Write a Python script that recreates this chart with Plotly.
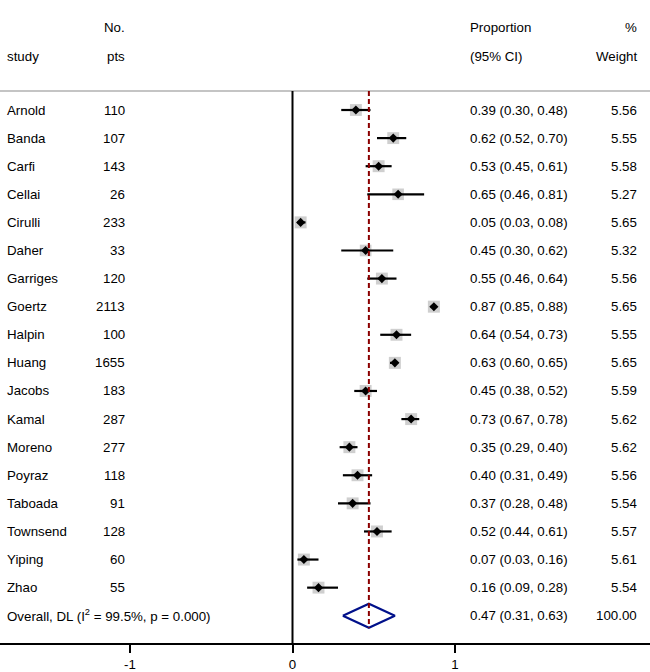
import plotly.graph_objects as go
import math

studies = ["Arnold", "Banda", "Carfi", "Cellai", "Cirulli", "Daher", "Garriges", "Goertz", "Halpin",
           "Huang", "Jacobs", "Kamal", "Moreno", "Poyraz", "Taboada", "Townsend", "Yiping", "Zhao"]
pts = [110, 107, 143, 26, 233, 33, 120, 2113, 100, 1655, 183, 287, 277, 118, 91, 128, 60, 55]
est = [0.39, 0.62, 0.53, 0.65, 0.05, 0.45, 0.55, 0.87, 0.64, 0.63, 0.45, 0.73, 0.35, 0.40, 0.37, 0.52, 0.07, 0.16]
lo = [0.30, 0.52, 0.45, 0.46, 0.03, 0.30, 0.46, 0.85, 0.54, 0.60, 0.38, 0.67, 0.29, 0.31, 0.28, 0.44, 0.03, 0.09]
hi = [0.48, 0.70, 0.61, 0.81, 0.08, 0.62, 0.64, 0.88, 0.73, 0.65, 0.52, 0.78, 0.40, 0.49, 0.48, 0.61, 0.16, 0.28]
weight = [5.56, 5.55, 5.58, 5.27, 5.65, 5.32, 5.56, 5.65, 5.55, 5.65, 5.59, 5.62, 5.62, 5.56, 5.54, 5.57, 5.61, 5.54]
overall_label = "Overall, DL (I<sup>2</sup> = 99.5%, p = 0.000)"
overall_est, overall_lo, overall_hi, overall_w = 0.47, 0.31, 0.63, 100.00
xticks = [-1, 0, 1]

W, H = 650, 672
FONT = "Liberation Sans, Arial, sans-serif"
FS = 13.3
rows = list(range(len(studies)))
overall_row = len(studies)
y_top, y_bot = -3.915, 18.97
header_line = -0.68

fig = go.Figure()

# gray weight boxes
fig.add_trace(go.Scatter(
    x=est, y=rows, mode="markers",
    marker=dict(symbol="square", color="#bababa", size=[12 * math.sqrt(w / 5.65) for w in weight],
                line=dict(width=0)),
    hoverinfo="skip", showlegend=False))

# CI lines
cx, cy = [], []
for r, a, b in zip(rows, lo, hi):
    cx += [a, b, None]
    cy += [r, r, None]
fig.add_trace(go.Scatter(x=cx, y=cy, mode="lines", line=dict(color="black", width=2.2),
                         hoverinfo="skip", showlegend=False))

# point estimates
fig.add_trace(go.Scatter(
    x=est, y=rows, mode="markers",
    marker=dict(symbol="diamond", color="black", size=7, line=dict(width=0)),
    hoverinfo="skip", showlegend=False))

# overall diamond
dh = 0.43
fig.add_trace(go.Scatter(
    x=[overall_lo, overall_est, overall_hi, overall_est, overall_lo],
    y=[overall_row, overall_row - dh, overall_row, overall_row + dh, overall_row],
    mode="lines", line=dict(color="#00108a", width=2.2),
    hoverinfo="skip", showlegend=False))

shapes = [
    dict(type="line", xref="paper", yref="y", x0=0, x1=1, y0=header_line, y1=header_line,
         line=dict(color="#c4c4c4", width=2)),
    dict(type="line", xref="x", yref="y", x0=0, x1=0, y0=header_line, y1=y_bot,
         line=dict(color="black", width=2)),
    dict(type="line", xref="x", yref="y", x0=overall_est, x1=overall_est, y0=header_line,
         y1=overall_row + dh, line=dict(color="#8b0000", width=2, dash="5px,3px")),
]

ann = []
def txt(px, row, s, anchor):
    ann.append(dict(x=px / W, xref="paper", y=row, yref="y", text=s, showarrow=False,
                    xanchor=anchor, yanchor="middle", font=dict(family=FONT, size=FS, color="black")))

r1, r2 = -2.92, -1.89
txt(127, r1, "No.", "right")
txt(5, r2, "study", "left")
txt(127, r2, "pts", "right")
txt(468, r1, "Proportion", "left")
txt(468, r2, "(95% CI)", "left")
txt(639, r1, "%", "right")
txt(639, r2, "Weight", "right")

for r, n, p, e, a, b, w in zip(rows, studies, pts, est, lo, hi, weight):
    txt(5, r, n, "left")
    txt(127, r, str(p), "right")
    txt(468, r, f"{e:.2f} ({a:.2f}, {b:.2f})", "left")
    txt(639, r, f"{w:.2f}", "right")

txt(5, overall_row, overall_label, "left")
txt(468, overall_row, f"{overall_est:.2f} ({overall_lo:.2f}, {overall_hi:.2f})", "left")
txt(639, overall_row, f"{overall_w:.2f}", "right")

fig.update_layout(
    width=W, height=H, margin=dict(l=0, r=0, t=0, b=29),
    paper_bgcolor="white", plot_bgcolor="white",
    shapes=shapes, annotations=ann, showlegend=False,
    xaxis=dict(range=[-1.8, 2.2], tickvals=xticks, ticktext=[str(t) for t in xticks],
               showgrid=False, zeroline=False, showline=True, linecolor="black", linewidth=2,
               ticks="outside", ticklen=8, tickwidth=1.5, tickcolor="black",
               tickfont=dict(family=FONT, size=FS, color="black")),
    yaxis=dict(range=[y_bot, y_top], visible=False, showgrid=False, zeroline=False),
)

fig.write_html("out.html", config={"displayModeBar": False},
               post_script="document.body.style.margin='0';document.body.style.padding='0';document.body.style.overflow='hidden';")
